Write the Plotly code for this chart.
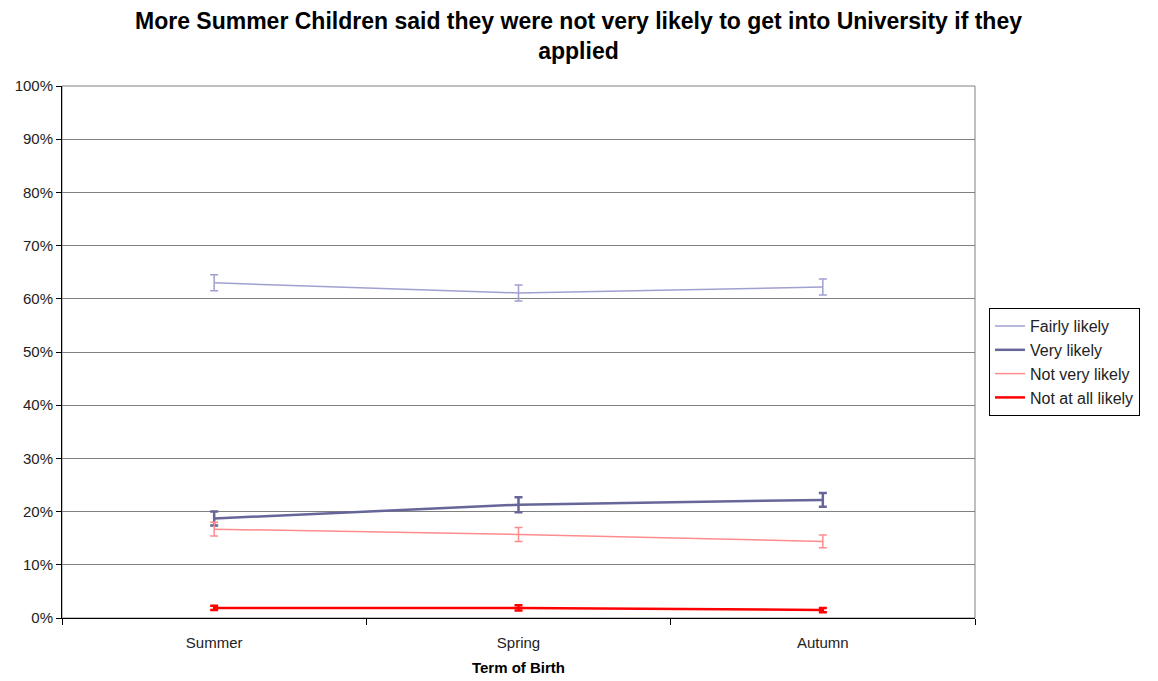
import plotly.graph_objects as go

categories = ["Summer", "Spring", "Autumn"]
fairly_likely = [63.0, 61.1, 62.2]
fairly_err = [1.5, 1.5, 1.5]
very_likely = [18.7, 21.3, 22.2]
very_err = [1.3, 1.4, 1.3]
not_very_likely = [16.7, 15.7, 14.4]
not_very_err = [1.3, 1.3, 1.2]
not_at_all = [1.9, 1.9, 1.5]
not_at_all_err = [0.4, 0.5, 0.4]

series = [
    ("Fairly likely", fairly_likely, fairly_err, "#A0A0D0", 1.5),
    ("Very likely", very_likely, very_err, "#666699", 2.5),
    ("Not very likely", not_very_likely, not_very_err, "#FF8C8C", 1.5),
    ("Not at all likely", not_at_all, not_at_all_err, "#FF0000", 2.5),
]

fig = go.Figure()
for name, vals, errs, color, w in series:
    fig.add_trace(go.Scatter(
        x=categories, y=vals, name=name, mode="lines",
        line=dict(color=color, width=w),
        error_y=dict(type="data", array=errs, visible=True, color=color,
                     thickness=w, width=4),
    ))

fig.update_layout(
    width=1158, height=681,
    paper_bgcolor="white", plot_bgcolor="white",
    margin=dict(l=62, r=183, t=86, b=63),
    font=dict(family="Liberation Sans, Arial, sans-serif", size=15, color="#222222"),
    title=dict(
        text="<b>More Summer Children said they were not very likely to get into University if they<br>applied</b>",
        x=(130 + 1027) / 2 / 1158, xanchor="center", xref="container",
        y=1 - 29 / 681, yanchor="top", yref="container",
        font=dict(size=23, color="black"),
    ),
    showlegend=True,
    legend=dict(
        x=1.0153, xanchor="left", y=0.481, yanchor="middle",
        bordercolor="black", borderwidth=1, bgcolor="white",
        font=dict(size=16, color="#222222"), tracegroupgap=0,
    ),
    shapes=[
        dict(type="rect", xref="paper", yref="paper", x0=0, x1=1, y0=0, y1=1,
             line=dict(color="#808080", width=1), layer="below"),
    ],
)
fig.update_xaxes(
    type="category", tickson="boundaries", ticks="outside", ticklen=6,
    tickcolor="black", showline=True, linecolor="black", mirror=False,
    range=[-0.5, 2.5], showgrid=False, ticklabelstandoff=11, automargin=False,
    title=dict(text="<b>Term of Birth</b>", font=dict(size=15, color="black"), standoff=12),
    tickfont=dict(size=15),
)
fig.update_yaxes(
    range=[0, 100], dtick=10, ticksuffix="%", ticks="outside", ticklen=5,
    tickcolor="black", showline=True, linecolor="black", mirror=False,
    showgrid=True, gridcolor="#808080", gridwidth=1, zeroline=False,
    tickfont=dict(size=15), automargin=False,
)

fig.write_html("out.html", config={"displayModeBar": False},
               post_script="document.body.style.margin='0';document.body.style.padding='0';")
